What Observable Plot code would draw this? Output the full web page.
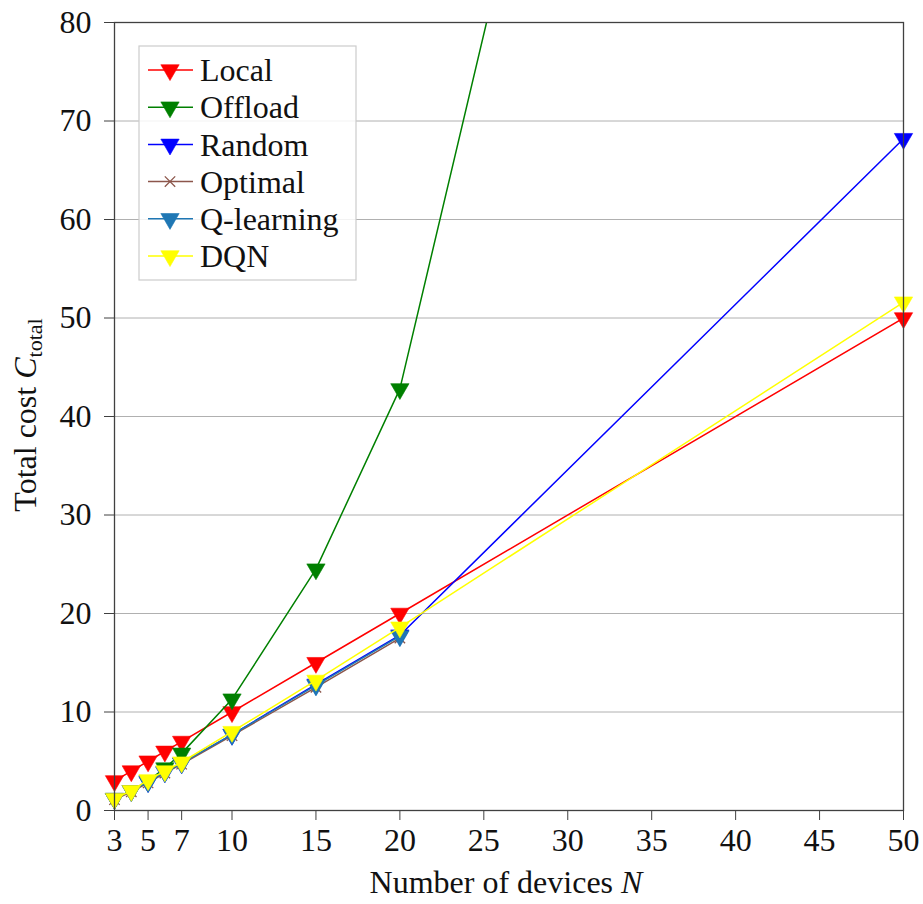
<!DOCTYPE html>
<html><head><meta charset="utf-8">
<script src="https://cdn.jsdelivr.net/npm/d3@7"></script>
<script src="https://cdn.jsdelivr.net/npm/@observablehq/plot@0.6"></script>
<style>body{margin:0;background:#fff}</style>
</head><body><div id="chart"></div>
<script>
const devices = [3,4,5,6,7,10,15,20,50];
const localCost = [3,4,5,6,7,10,15,20,50];
const offloadCost = [1.2,2.0,3.0,4.3,5.8,11.3,24.5,42.8,259];
const randomCost = [1.2,2.0,2.9,3.9,4.8,7.7,12.8,17.8,68.2];
const smallDevices = [3,4,5,6,7,10,15,20];
const optimalCost = [1.1,1.9,2.8,3.8,4.7,7.6,12.5,17.5];
const qlearningCost = [1.2,2.0,2.9,3.9,4.8,7.7,12.7,17.7];
const dqnCost = [1.2,2.0,3.1,4.0,4.9,8.0,13.2,18.6,51.6];
const xTicks = [3,5,7,10,15,20,25,30,35,40,45,50];
const yTicks = [0,10,20,30,40,50,60,70,80];
const seriesNames = ["Local","Offload","Random","Optimal","Q-learning","DQN"];
const seriesColors = ["#ff0000","#008000","#0000ff","#8c564b","#1f77b4","#ffff00"];

const seriesData = [
  [devices, localCost],
  [devices, offloadCost],
  [devices, randomCost],
  [smallDevices, optimalCost],
  [smallDevices, qlearningCost],
  [devices, dqnCost]
];
const rows = [];
seriesData.forEach(([xs, ys], i) => xs.forEach((x, j) => rows.push({N: x, cost: ys[j], series: seriesNames[i]})));

const FONT = "'Liberation Serif', 'DejaVu Serif', serif";
const FS = 32;
const TRI_R = 6.8;
const marks = [
  Plot.gridY(yTicks, {stroke: "#b0b0b0", strokeOpacity: 1, strokeWidth: 1})
];
seriesNames.forEach((name, i) => {
  const d = rows.filter(r => r.series === name);
  const visible = d.filter(r => r.cost <= 80);
  marks.push(Plot.line(d, {x: "N", y: "cost", stroke: seriesColors[i], strokeWidth: 1.5, clip: true}));
  if (name === "Optimal") {
    marks.push(Plot.dot(visible, {x: "N", y: "cost", symbol: "times", r: 4.8, stroke: seriesColors[i], strokeWidth: 1.3}));
  } else {
    marks.push(Plot.dot(visible, {x: "N", y: "cost", symbol: "triangle", rotate: 180, r: TRI_R, fill: seriesColors[i], stroke: seriesColors[i], strokeWidth: 0.6}));
  }
});
marks.push(Plot.frame({stroke: "#404040", strokeWidth: 1.3}));
marks.push(Plot.axisX({ticks: xTicks, tickSize: 10, tickPadding: 8, label: null, fontSize: FS, stroke: "#404040"}));
marks.push(Plot.axisY({ticks: yTicks, tickSize: 10, tickPadding: 13, label: null, fontSize: FS, stroke: "#404040"}));

const chart = Plot.plot({
  width: 923, height: 904,
  marginLeft: 114, marginRight: 20, marginTop: 22, marginBottom: 94,
  style: {fontFamily: FONT, fontSize: FS + "px", background: "#fff", color: "#111"},
  x: {domain: [3, 50]},
  y: {domain: [0, 80]},
  marks
});
document.getElementById("chart").appendChild(chart);

const svg = d3.select(chart);
// X label
const xl = svg.append("text").attr("x", 506).attr("y", 893).attr("text-anchor", "middle")
  .attr("font-family", FONT).attr("font-size", FS).attr("fill", "#111");
xl.append("tspan").text("Number of devices ");
xl.append("tspan").attr("font-style", "italic").text("N");
// Y label
const yl = svg.append("text").attr("transform", "translate(36,415) rotate(-90)").attr("text-anchor", "middle")
  .attr("font-family", FONT).attr("font-size", FS).attr("fill", "#111");
yl.append("tspan").text("Total cost ");
yl.append("tspan").attr("font-style", "italic").text("C");
yl.append("tspan").attr("font-size", 22).attr("dy", 6).text("total");

// Legend
const lg = svg.append("g");
lg.append("rect").attr("x", 139).attr("y", 46).attr("width", 217).attr("height", 234)
  .attr("fill", "#fff").attr("fill-opacity", 0.85).attr("stroke", "#cccccc").attr("stroke-width", 1.2);
seriesNames.forEach((name, i) => {
  const y = 70 + i * 37.2;
  lg.append("line").attr("x1", 148).attr("x2", 193).attr("y1", y).attr("y2", y)
    .attr("stroke", seriesColors[i]).attr("stroke-width", 1.5);
  if (name === "Optimal") {
    lg.append("path").attr("d", d3.symbol(d3.symbolTimes, 4.8 * 4.8 * Math.PI)())
      .attr("transform", `translate(170,${y})`).attr("fill", "none").attr("stroke", seriesColors[i]).attr("stroke-width", 1.3);
  } else {
    lg.append("path").attr("d", d3.symbol(d3.symbolTriangle, TRI_R * TRI_R * Math.PI)())
      .attr("transform", `translate(170,${y}) rotate(180)`).attr("fill", seriesColors[i]).attr("stroke", seriesColors[i]).attr("stroke-width", 0.6);
  }
  lg.append("text").attr("x", 200).attr("y", y).attr("dy", "0.35em").attr("text-anchor", "start")
    .attr("font-family", FONT).attr("font-size", FS).attr("fill", "#111").text(name);
});
</script>
</body></html>
